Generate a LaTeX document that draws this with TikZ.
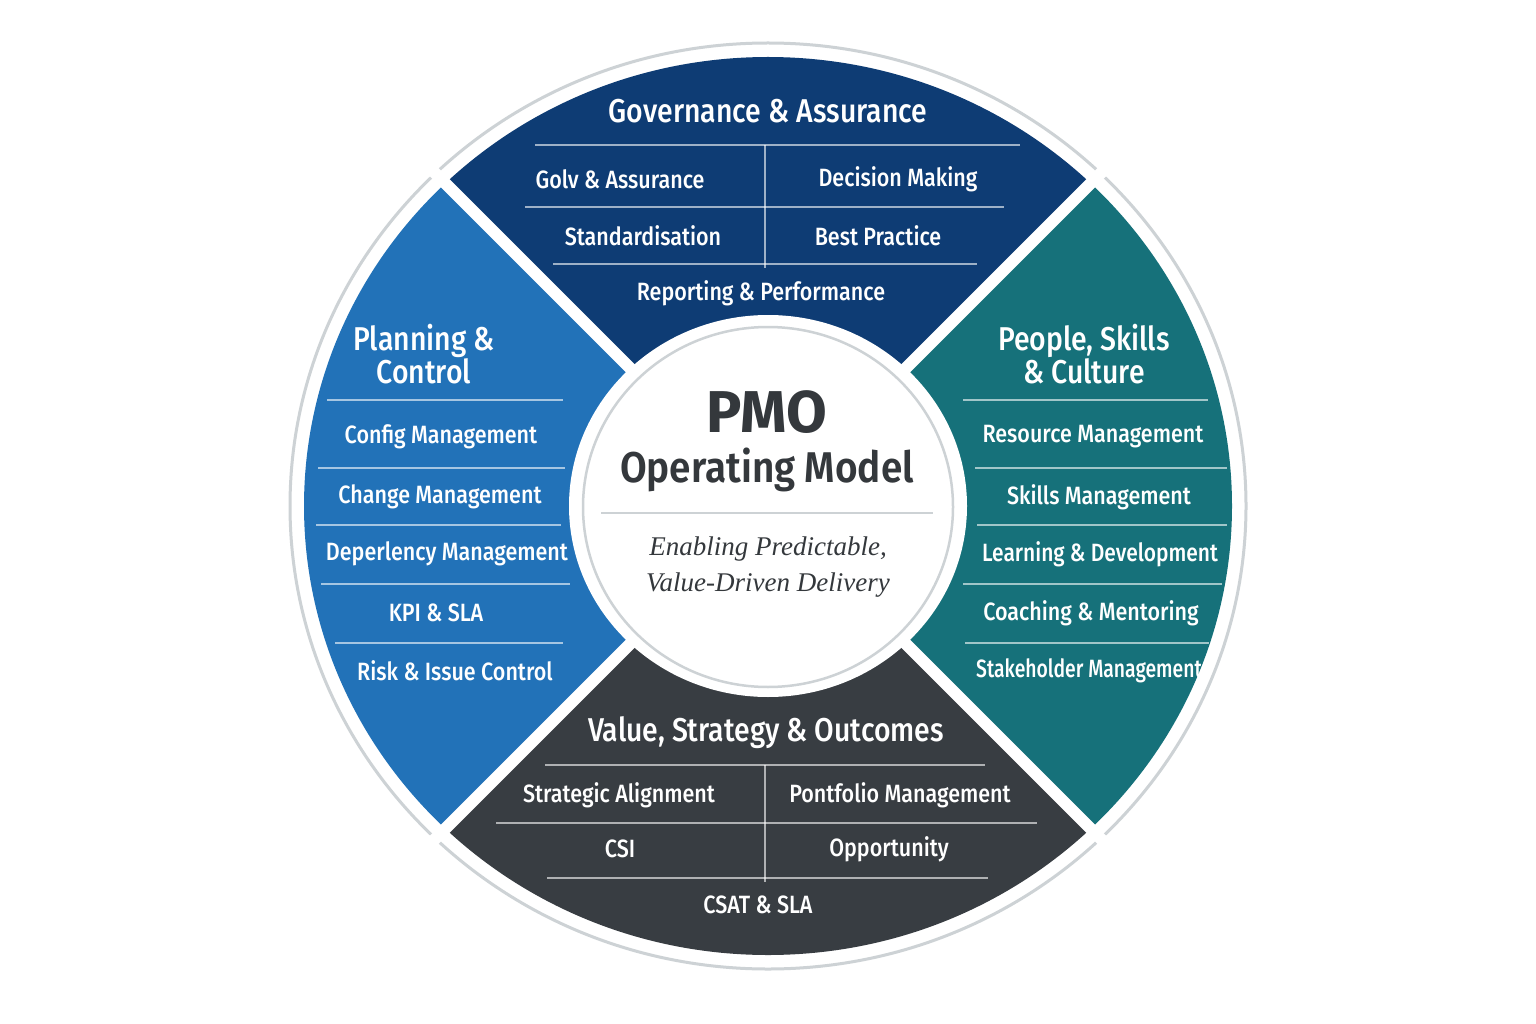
\documentclass[tikz,border=0pt]{standalone}
\usepackage{fontspec}
\setmainfont{Fira Sans}
\newfontfamily\segfont{Fira Sans Medium}[FakeStretch=0.86]
\newfontfamily\pmofont{Fira Sans SemiBold}[FakeStretch=0.9]
\newfontfamily\pmobold{Fira Sans Bold}
\newfontfamily\tagfont{Liberation Serif}
\definecolor{navy}{RGB}{14,60,116}
\definecolor{bluec}{RGB}{34,114,184}
\definecolor{tealc}{RGB}{22,113,122}
\definecolor{darkc}{RGB}{56,61,66}
\definecolor{ringc}{RGB}{205,210,213}
\definecolor{txtc}{RGB}{52,56,60}
\begin{document}
\begin{tikzpicture}[x=1pt,y=-1pt,
  segtitle/.style={text=white,font=\segfont\fontsize{33}{32}\selectfont,align=center,inner sep=0pt},
  item/.style={text=white,font=\segfont\fontsize{25}{28}\selectfont,inner sep=0pt},
  divider/.style={draw=white,draw opacity=0.6,line width=1.4},
]
\useasboundingbox (0,0) rectangle (1536,1024);
\fill[white] (0,0) rectangle (1536,1024);
% outer ring
\draw[ringc,line width=3] (768,506) ellipse [x radius=478, y radius=463];
% segments
\begin{scope}
\clip (768,506) ellipse [x radius=464, y radius=449];
\fill[navy] (768,506) -- (168,-94) -- (1368,-94) -- cycle;
\fill[bluec] (768,506) -- (168,-94) -- (168,1106) -- cycle;
\fill[tealc] (768,506) -- (1368,-94) -- (1368,1106) -- cycle;
\fill[darkc] (768,506) -- (168,1106) -- (1368,1106) -- cycle;
\end{scope}
\draw[white,line width=12] (168,-94) -- (1368,1106);
\draw[white,line width=12] (1368,-94) -- (168,1106);
% centre
\fill[white] (768,506) ellipse [x radius=199, y radius=191];
\draw[ringc,line width=2.5,fill=white] (768,507) ellipse [x radius=185, y radius=180];

% ---- top: Governance
\node[segtitle] (g0) at (768,111) {Governance \& Assurance};
\draw[divider] (535,145) -- (1020,145);
\draw[divider] (765,145) -- (765,268);
\node[item] (g1) at (620,179) {Golv \& Assurance};
\node[item] (g2) at (898,179) {Decision Making};
\draw[divider] (525,207) -- (1004,207);
\node[item] (g3) at (643,236) {Standardisation};
\node[item] (g4) at (878,236) {Best Practice};
\draw[divider] (553,264) -- (977,264);
\node[item] (g5) at (761,293) {Reporting \& Performance};

% ---- left: Planning
\node[segtitle] (p0) at (424,354) {Planning \&\\Control};
\draw[divider] (327,400) -- (563,400);
\node[item] (p1) at (441,437) {Config Management};
\draw[divider] (318,468) -- (565,468);
\node[item] (p2) at (440,497) {Change Management};
\draw[divider] (316,525) -- (561,525);
\node[item] (p3) at (447,554) {Deperlency Management};
\draw[divider] (321,584) -- (570,584);
\node[item] (p4) at (436,613) {KPI \& SLA};
\draw[divider] (335,643) -- (563,643);
\node[item] (p5) at (455,671) {Risk \& Issue Control};

% ---- right: People
\node[segtitle] (r0) at (1084,354) {People, Skills\\\& Culture};
\draw[divider] (963,400) -- (1208,400);
\node[item] (r1) at (1093,437) {Resource Management};
\draw[divider] (975,468) -- (1227,468);
\node[item] (r2) at (1099,497) {Skills Management};
\draw[divider] (977,525) -- (1227,525);
\node[item] (r3) at (1100,554) {\scalebox{0.975}[1]{Learning \& Development}};
\draw[divider] (963,584) -- (1222,584);
\node[item] (r4) at (1091,613) {Coaching \& Mentoring};
\draw[divider] (965,643) -- (1209,643);
\node[item] (r5) at (1089,671) {\scalebox{0.9}[1]{Stakeholder Management}};

% ---- bottom: Value
\node[segtitle] (v0) at (766,733) {Value, Strategy \& Outcomes};
\draw[divider] (545,765) -- (985,765);
\draw[divider] (765,765) -- (765,882);
\node[item] (v1) at (619,795) {Strategic Alignment};
\node[item] (v2) at (900,795) {Pontfolio Management};
\draw[divider] (496,823) -- (1037,823);
\node[item] (v3) at (620,849) {CSI};
\node[item] (v4) at (889,849) {Opportunity};
\draw[divider] (547,878) -- (988,878);
\node[item] (v5) at (758,905) {CSAT \& SLA};

% ---- centre text
\node[text=txtc,font=\pmobold\fontsize{59}{62}\selectfont,inner sep=0pt] (pmo) at (767,412) {PMO};
\node[text=txtc,font=\pmofont\fontsize{43}{48}\selectfont,inner sep=0pt] (om) at (767,470) {Operating Model};
\draw[ringc,line width=2] (601,513) -- (933,513);
\node[text=txtc,font=\tagfont\itshape\fontsize{27}{36}\selectfont,align=center,inner sep=0pt] (tag) at (768,567) {Enabling Predictable,\\Value-Driven Delivery};
\end{tikzpicture}
\end{document}
